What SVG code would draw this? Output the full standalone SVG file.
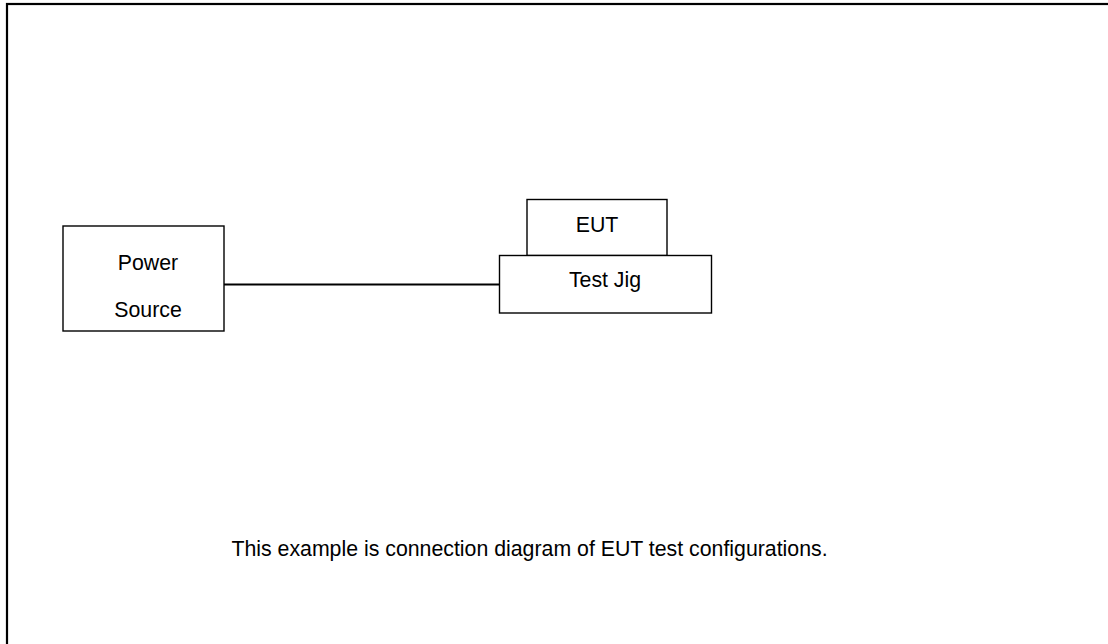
<svg xmlns="http://www.w3.org/2000/svg" width="1108" height="644" viewBox="0 0 1108 644">
<style>
.box{fill:#fff;stroke:#000;stroke-width:1.4}
.t{font-family:"Liberation Sans",Arial,sans-serif;font-size:21.3px;fill:#000;text-anchor:middle}
.c{stroke:#000;stroke-width:1.8;fill:none}
</style>
<rect x="0" y="0" width="1108" height="644" fill="#fff"/>
<rect x="7" y="4" width="1120" height="660" fill="none" stroke="#000" stroke-width="2.2"/>
<g id="connectors">
<line class="c" x1="224" y1="284.5" x2="499" y2="284.5"/>
</g>
<g id="power-source">
<rect class="box" x="63" y="226" width="161" height="105"/>
<text class="t" x="148" y="270">Power</text>
<text class="t" x="148" y="317">Source</text>
</g>
<g id="eut">
<rect class="box" x="527" y="199.5" width="140" height="56"/>
<text class="t" x="597" y="232">EUT</text>
</g>
<g id="test-jig">
<rect class="box" x="499.5" y="255.5" width="212" height="57.5"/>
<text class="t" x="605" y="287">Test Jig</text>
</g>
<g id="caption">
<text class="t" x="529.5" y="556">This example is connection diagram of EUT test configurations.</text>
</g>
</svg>
